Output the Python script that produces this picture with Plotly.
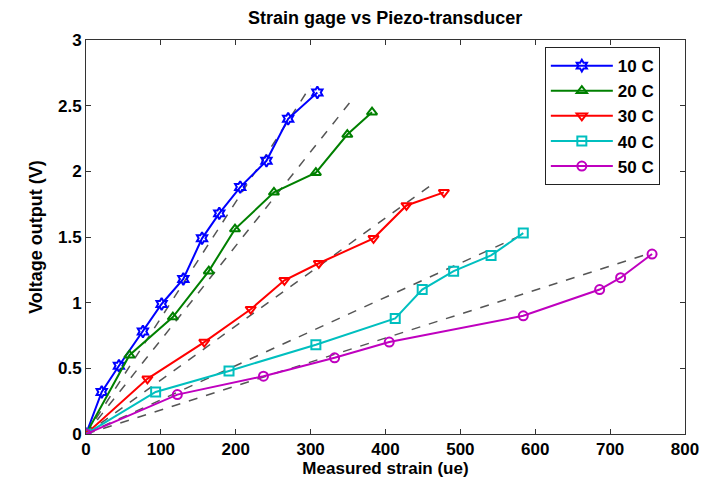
import plotly.graph_objects as go

# ---- data ----
labels = ["10 C", "20 C", "30 C", "40 C", "50 C"]

x10 = [0, 21, 44, 76, 101, 130, 155, 178, 206, 241, 270, 309]
y10 = [0, 0.32, 0.52, 0.78, 0.99, 1.18, 1.49, 1.68, 1.88, 2.08, 2.40, 2.60]

x20 = [0, 58, 116, 164, 199, 251, 307, 349, 382]
y20 = [0, 0.60, 0.89, 1.24, 1.56, 1.84, 1.99, 2.28, 2.45]

x30 = [0, 82, 158, 220, 265, 311, 384, 428, 478]
y30 = [0, 0.42, 0.70, 0.95, 1.17, 1.30, 1.49, 1.74, 1.84]

x40 = [0, 93, 191, 307, 413, 449, 491, 541, 584]
y40 = [0, 0.32, 0.48, 0.68, 0.88, 1.10, 1.24, 1.36, 1.53]

x50 = [0, 122, 237, 332, 405, 584, 686, 714, 756]
y50 = [0, 0.30, 0.44, 0.58, 0.70, 0.90, 1.10, 1.19, 1.37]

# linear fit lines (from origin to end points)
fit_x_end = [300, 356, 467, 584, 750]
fit_y_end = [2.65, 2.55, 1.92, 1.52, 1.37]

xs = [x10, x20, x30, x40, x50]
ys = [y10, y20, y30, y40, y50]

colors = ["#0000ff", "#008000", "#ff0000", "#00bfbf", "#bf00bf"]
symbols = ["hexagram-open", "triangle-up-open", "triangle-down-open", "square-open", "circle-open"]

fig = go.Figure()

for i in range(5):
    fig.add_trace(go.Scatter(
        x=[0, fit_x_end[i]], y=[0, fit_y_end[i]], mode="lines",
        line=dict(color="#555555", width=1.5, dash="dash"),
        showlegend=False, hoverinfo="skip"))

for i in range(5):
    fig.add_trace(go.Scatter(
        x=xs[i], y=ys[i], mode="lines+markers", name=labels[i],
        line=dict(color=colors[i], width=2),
        marker=dict(symbol=symbols[i], size=9, color=colors[i],
                    line=dict(color=colors[i], width=2))))

axis_common = dict(
    showgrid=False, zeroline=False, showline=True, linecolor="#333333",
    linewidth=1, mirror="ticks", ticks="inside", ticklen=5,
    tickcolor="#333333", tickfont=dict(size=17, color="black"))

fig.update_layout(
    width=717, height=479,
    paper_bgcolor="white", plot_bgcolor="white",
    font=dict(family="Liberation Sans, Arial, sans-serif", size=17,
              color="black", weight="bold"),
    margin=dict(l=78, r=40, t=32, b=53),
    title=dict(text="Strain gage vs Piezo-transducer", x=0.526, xanchor="center",
               y=0.979, yanchor="middle", font=dict(size=18)),
    xaxis=dict(range=[0, 800], dtick=100,
               title=dict(text="Measured strain (ue)", standoff=0, font=dict(size=17)),
               **axis_common),
    yaxis=dict(range=[0, 3], dtick=0.5,
               title=dict(text="Voltage output (V)", standoff=10, font=dict(size=18)),
               **axis_common),
    legend=dict(x=0.766, y=0.982, xanchor="left", yanchor="top",
                bordercolor="#222222", borderwidth=1, bgcolor="white",
                font=dict(size=17), tracegroupgap=0, itemwidth=62),
)

fig.write_html("out.html")
